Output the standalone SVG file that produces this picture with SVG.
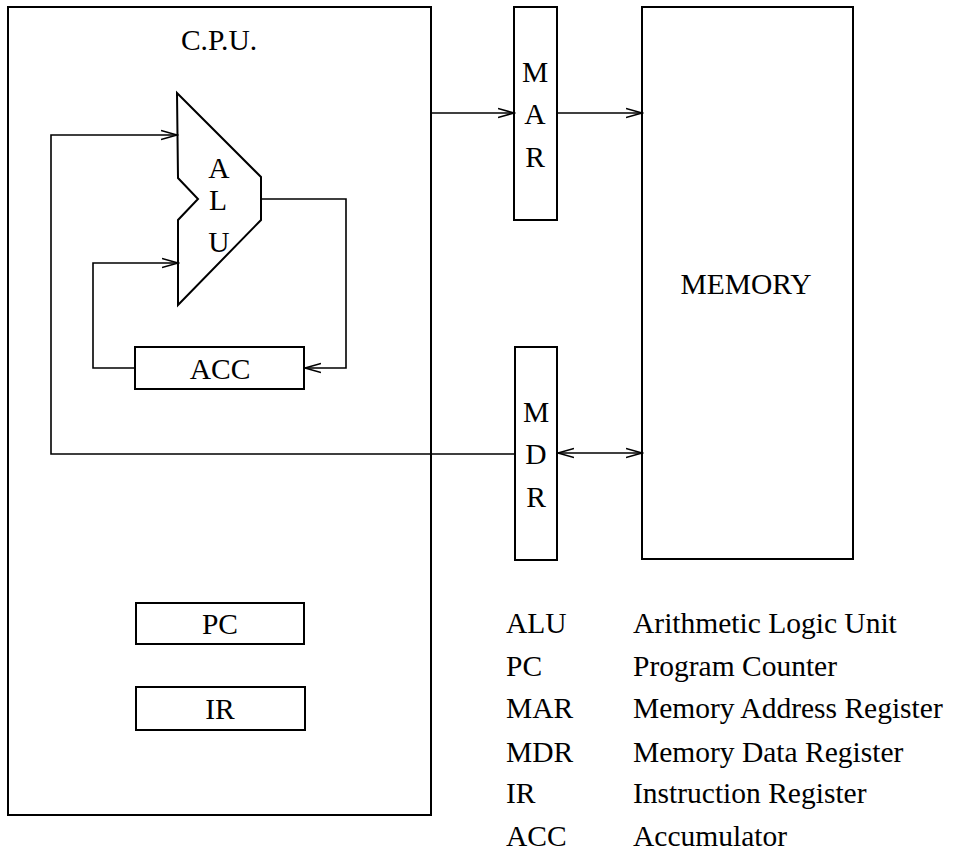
<svg xmlns="http://www.w3.org/2000/svg" width="960" height="853" viewBox="0 0 960 853">
<style>
.box{fill:#fff;stroke:#000;stroke-width:2}
.wire{fill:none;stroke:#000;stroke-width:1.6}
.t{font-family:'Liberation Serif','Times New Roman',serif;font-size:29.5px;fill:#000}
.m{text-anchor:middle}
</style>
<defs>
<marker id="arr" markerUnits="userSpaceOnUse" markerWidth="18" markerHeight="12" refX="16" refY="5" orient="auto-start-reverse" viewBox="0 0 18 10">
<path d="M0,0.5 L16,5 L0,9.5" fill="none" stroke="#000" stroke-width="1.6"/>
</marker>
</defs>
<rect width="960" height="853" fill="#fff"/>
<g id="cpu">
<rect class="box" x="8" y="7" width="423" height="808"/>
<text class="t m" x="219" y="50" font-family="Liberation Serif">C.P.U.</text>
</g>
<g id="alu">
<polygon class="box" points="177,93 261,177 261,220 178,305 178,220 198,199 178,178"/>
<text class="t m" x="219" y="178" font-family="Liberation Serif">A</text>
<text class="t m" x="218" y="210" font-family="Liberation Serif">L</text>
<text class="t m" x="219" y="252" font-family="Liberation Serif">U</text>
</g>
<g id="acc">
<rect class="box" x="135" y="347" width="169" height="42"/>
<text class="t m" x="220" y="379" font-family="Liberation Serif">ACC</text>
</g>
<g id="pc">
<rect class="box" x="136" y="603" width="168" height="41"/>
<text class="t m" x="220" y="634" font-family="Liberation Serif">PC</text>
</g>
<g id="ir">
<rect class="box" x="136" y="687" width="169" height="43"/>
<text class="t m" x="220" y="719" font-family="Liberation Serif">IR</text>
</g>
<g id="mar">
<rect class="box" x="514" y="7" width="43" height="213"/>
<text class="t m" x="535" y="82" font-family="Liberation Serif">M</text>
<text class="t m" x="535" y="124" font-family="Liberation Serif">A</text>
<text class="t m" x="535" y="167" font-family="Liberation Serif">R</text>
</g>
<g id="mdr">
<rect class="box" x="515" y="347" width="42" height="213"/>
<text class="t m" x="536" y="422" font-family="Liberation Serif">M</text>
<text class="t m" x="536" y="464" font-family="Liberation Serif">D</text>
<text class="t m" x="536" y="507" font-family="Liberation Serif">R</text>
</g>
<g id="memory">
<rect class="box" x="642" y="7" width="211" height="552"/>
<text class="t m" x="746" y="294" font-family="Liberation Serif">MEMORY</text>
</g>
<g id="connectors">
<polyline class="wire" points="515,454 51,454 51,135 177,135" marker-end="url(#arr)"/>
<polyline class="wire" points="135,368 93,368 93,263 178,263" marker-end="url(#arr)"/>
<polyline class="wire" points="261,199 346,199 346,368 305,368" marker-end="url(#arr)"/>
<line class="wire" x1="431" y1="113" x2="514" y2="113" marker-end="url(#arr)"/>
<line class="wire" x1="557" y1="113" x2="642" y2="113" marker-end="url(#arr)"/>
<line class="wire" x1="558" y1="453" x2="642" y2="453" marker-start="url(#arr)" marker-end="url(#arr)"/>
</g>
<g id="legend" font-family="Liberation Serif">
<text class="t" x="506" y="633">ALU</text><text class="t" x="633" y="633">Arithmetic Logic Unit</text>
<text class="t" x="506" y="676">PC</text><text class="t" x="633" y="676">Program Counter</text>
<text class="t" x="506" y="718">MAR</text><text class="t" x="633" y="718">Memory Address Register</text>
<text class="t" x="506" y="762">MDR</text><text class="t" x="633" y="762">Memory Data Register</text>
<text class="t" x="506" y="803">IR</text><text class="t" x="633" y="803">Instruction Register</text>
<text class="t" x="506" y="846">ACC</text><text class="t" x="633" y="846">Accumulator</text>
</g>
</svg>
